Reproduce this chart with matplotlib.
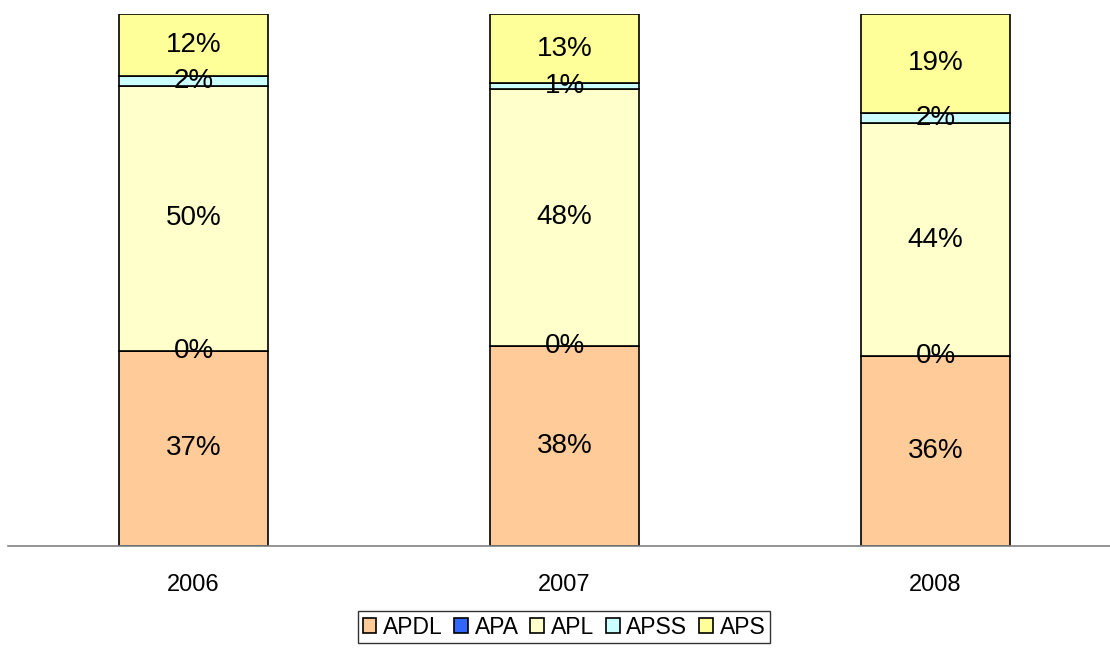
import matplotlib.pyplot as plt
import numpy as np

years = ["2006", "2007", "2008"]
series = ["APDL", "APA", "APL", "APSS", "APS"]
apdl = [36.7, 37.6, 35.7]
apa = [0.0, 0.0, 0.0]
apl = [49.8, 48.3, 43.8]
apss = [1.9, 1.1, 1.9]
aps = [11.6, 13.0, 18.6]
colors = ["#FFCC99", "#3366FF", "#FFFFCC", "#CCFFFF", "#FFFF99"]

plt.rcParams['font.family'] = ['Liberation Sans', 'DejaVu Sans']

fig = plt.figure(figsize=(11.1, 6.48), dpi=100)
ax = fig.add_axes([8 / 1110, 1 - 546 / 648, 1 - 8 / 1110, (546 - 14) / 648])

x = np.arange(len(years))
bottom = np.zeros(len(years))
handles = []
for name, vals, c in zip(series, [apdl, apa, apl, apss, aps], colors):
    vals = np.array(vals)
    b = ax.bar(x, vals, 0.4, bottom=bottom, color=c, edgecolor="black",
               linewidth=1.2, label=name, zorder=2)
    handles.append(b)
    for xi, v, bo in zip(x, vals, bottom):
        ax.text(xi, bo + v / 2, f"{v:.0f}%", ha="center", va="center",
                fontsize=20, zorder=3)
    bottom += vals

ax.set_xlim(-0.5, 2.47)
ax.set_ylim(0, 100)
ax.set_xticks(x)
ax.set_xticklabels(years, fontsize=17)
ax.tick_params(axis="x", length=0, pad=20)
ax.set_yticks([])
for s in ["top", "left", "right"]:
    ax.spines[s].set_visible(False)
ax.spines["bottom"].set_color("#808080")
ax.spines["bottom"].set_linewidth(1.2)

leg = fig.legend(handles=handles, loc="lower center", bbox_to_anchor=(0.508, 0.0),
                 ncol=5, fontsize=16.5, frameon=True, fancybox=False,
                 handlelength=0.6, handleheight=0.6, handletextpad=0.3,
                 columnspacing=0.5, borderpad=0.2, borderaxespad=0.2)
leg.get_frame().set_edgecolor("black")
leg.get_frame().set_linewidth(1.0)

fig.savefig("out.png", dpi=100)
